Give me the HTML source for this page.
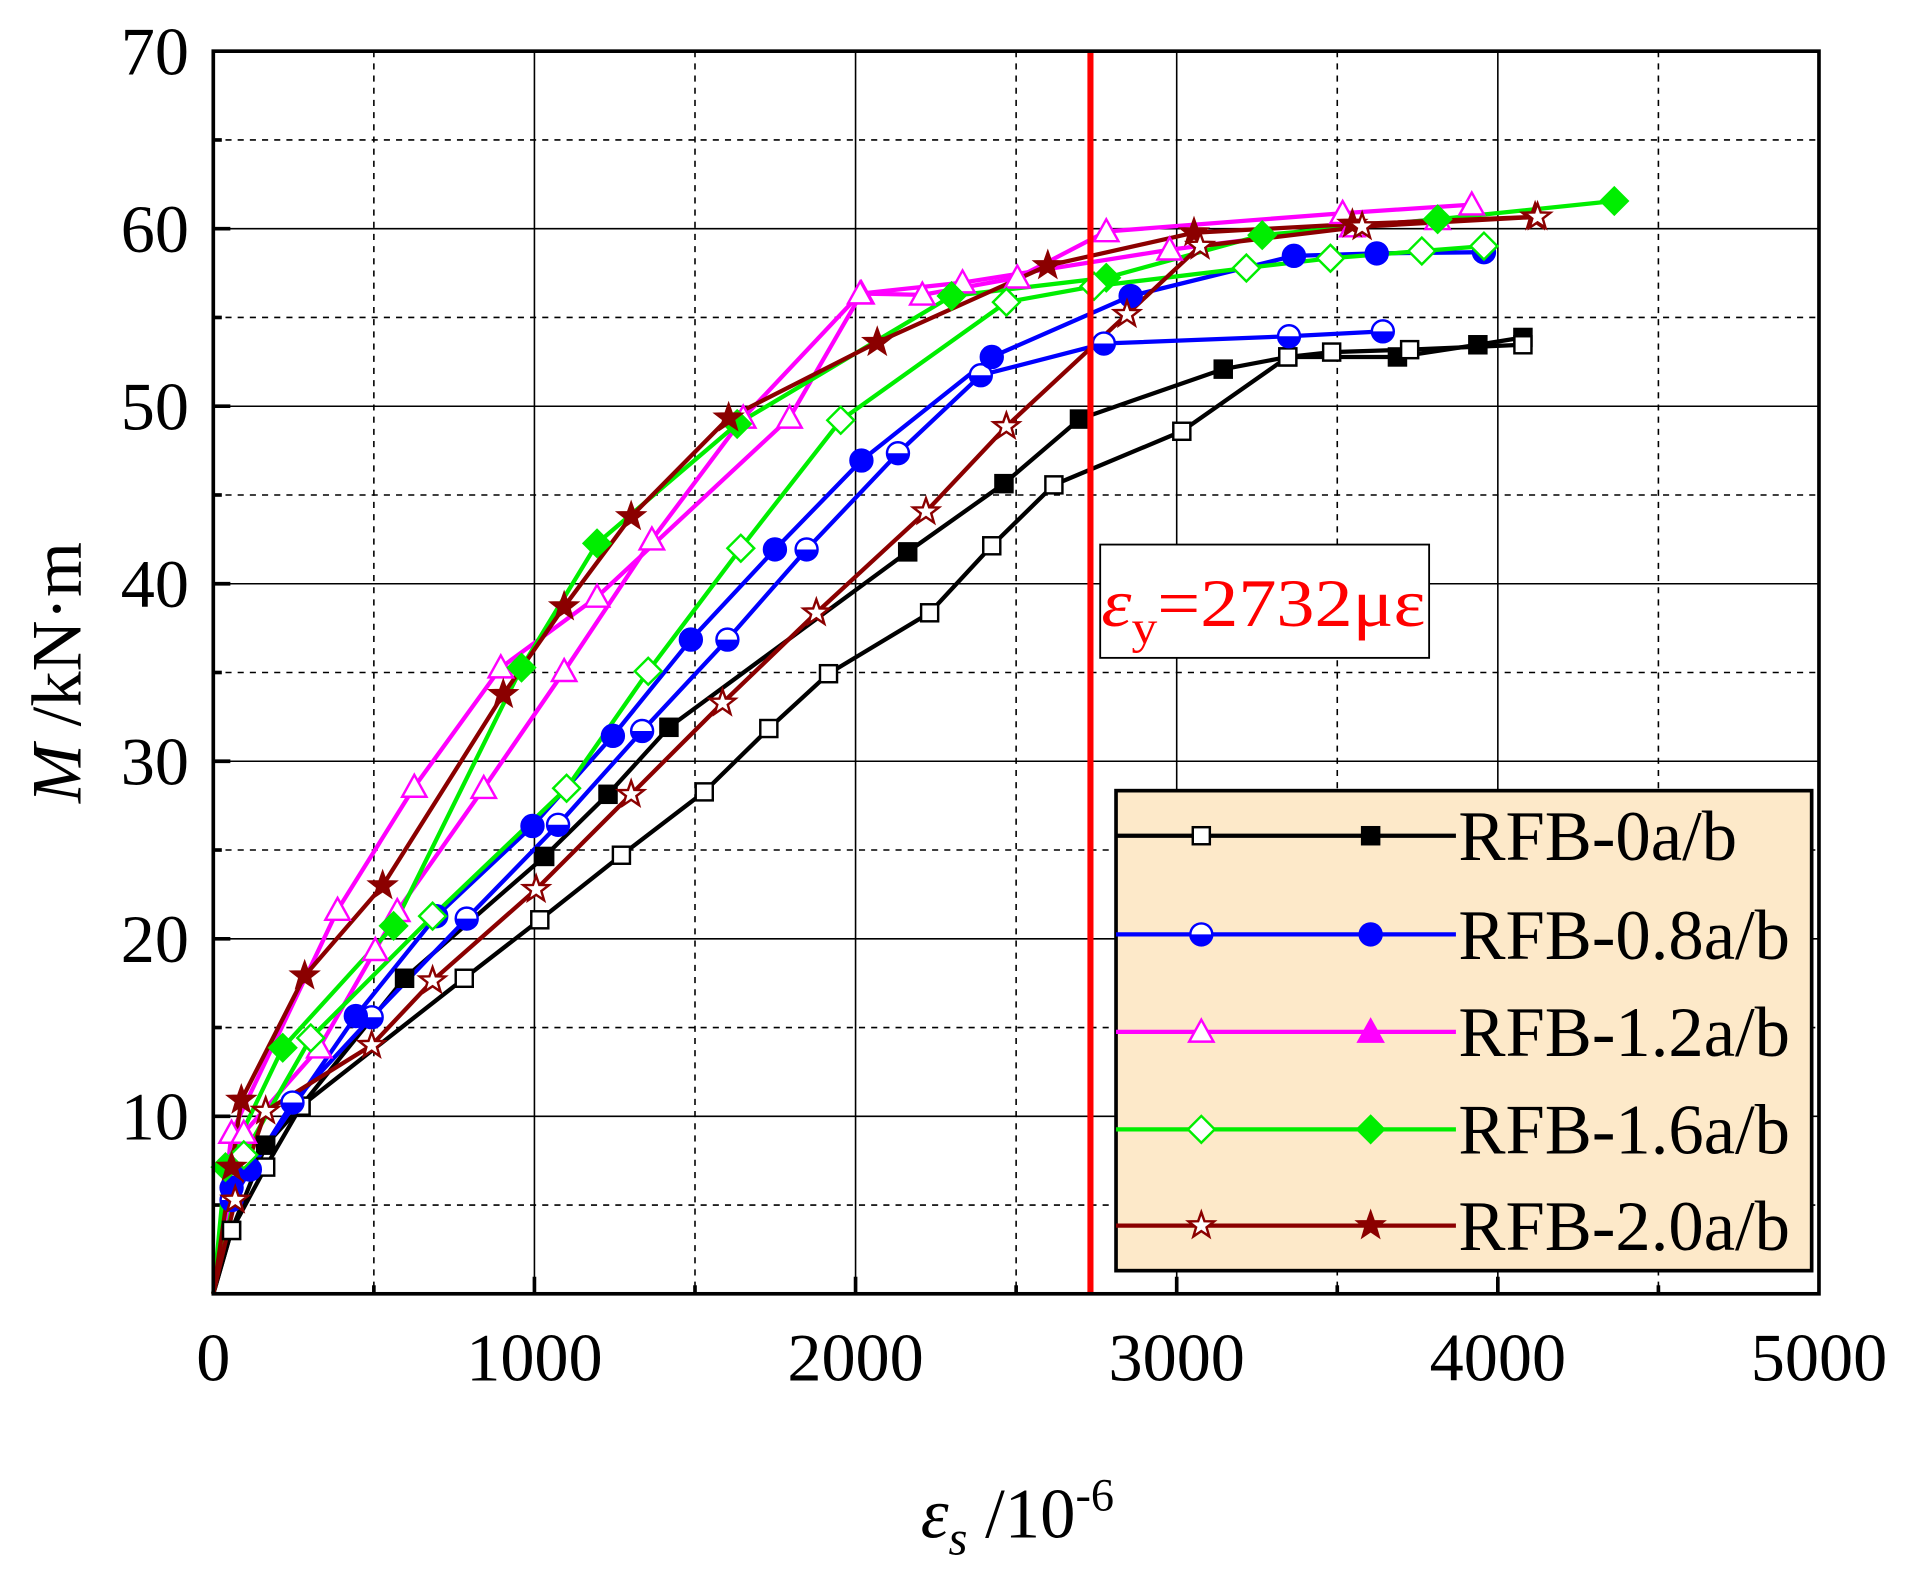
<!DOCTYPE html>
<html><head><meta charset="utf-8"><style>
html,body{margin:0;padding:0;background:#fff;width:1908px;height:1574px;overflow:hidden}
svg{display:block}
text{font-family:"Liberation Serif",serif}
</style></head><body>
<svg id="s" width="1908" height="1574" viewBox="0 0 1566 1292" xmlns="http://www.w3.org/2000/svg">
<g id="grid"></g>
<g id="plot"></g>
<line x1="895" y1="42" x2="895" y2="1062" stroke="#ff0000" stroke-width="5"/>
<rect x="903" y="447" width="270" height="93" fill="#fff" stroke="#000" stroke-width="1.5"/>
<text x="904" y="514" font-size="56" fill="#ff0000" textLength="266" lengthAdjust="spacingAndGlyphs"><tspan font-style="italic">ε</tspan><tspan font-size="38" dy="14">y</tspan><tspan dy="-14">=2732με</tspan></text>
<rect x="175" y="42" width="1318" height="1020" fill="none" stroke="#000" stroke-width="3"/>
<g id="legend"></g>
<g id="labels" font-size="56" fill="#000"></g>
<text x="0" y="0" font-size="58" transform="translate(66,552) rotate(-90)" text-anchor="middle"><tspan font-style="italic">M</tspan> /kN·m</text>
<text x="835" y="1262" font-size="58" text-anchor="middle"><tspan font-style="italic">ε</tspan><tspan font-style="italic" font-size="40" dy="14">s</tspan><tspan dy="-14"> /10</tspan><tspan font-size="38" dy="-22">-6</tspan></text>
</svg>
<script>
const NS="http://www.w3.org/2000/svg";
function el(p,t,a){const e=document.createElementNS(NS,t);for(const k in a)e.setAttribute(k,a[k]);p.appendChild(e);return e;}
const X=e=>175+e*0.2636, Y=m=>1062-m*14.571;
const g=document.getElementById('grid');
for(let e=500;e<5000;e+=500){const maj=e%1000==0;el(g,'line',{x1:X(e),x2:X(e),y1:42,y2:1062,stroke:'#000','stroke-width':1.3,'stroke-dasharray':maj?'none':'5,5'});}
for(let m=5;m<70;m+=5){const maj=m%10==0;el(g,'line',{x1:175,x2:1493,y1:Y(m),y2:Y(m),stroke:'#000','stroke-width':1.3,'stroke-dasharray':maj?'none':'5,5'});
el(g,'line',{x1:175,x2:maj?189:182,y1:Y(m),y2:Y(m),stroke:'#000','stroke-width':3});}
for(let e=500;e<5000;e+=500){el(g,'line',{x1:X(e),x2:X(e),y1:1062,y2:e%1000==0?1048:1055,stroke:'#000','stroke-width':3});}
const L=document.getElementById('labels');
for(let m=10;m<=70;m+=10){const t=el(L,'text',{x:155,y:Y(m)+19,'text-anchor':'end'});t.textContent=m;}
for(let e=0;e<=5000;e+=1000){const t=el(L,'text',{x:X(e),y:1133,'text-anchor':'middle'});t.textContent=e;}
function marker(p,type,x,y,col,fill){
 const f=fill?col:'#fff',a={stroke:col,'stroke-width':2,fill:f};
 if(type=='sq'){a.x=x-7;a.y=y-7;a.width=14;a.height=14;el(p,'rect',a);}
 else if(type=='ci'){a.cx=x;a.cy=y;a.r=9;el(p,'circle',a);el(p,'path',{d:`M${x-9} ${y}A9 9 0 0 0 ${x+9} ${y}Z`,fill:col});}
 else if(type=='tr'){a.points=`${x},${y-10} ${x+10},${y+8} ${x-10},${y+8}`;el(p,'polygon',a);}
 else if(type=='di'){a.points=`${x},${y-11} ${x+11},${y} ${x},${y+11} ${x-11},${y}`;el(p,'polygon',a);}
 else if(type=='st'){let pts=[];for(let i=0;i<10;i++){const r=i%2?4.5:11,an=-Math.PI/2+i*Math.PI/5;pts.push((x+r*Math.cos(an)).toFixed(1)+','+(y+r*Math.sin(an)).toFixed(1));}a.points=pts.join(' ');el(p,'polygon',a);}
}
const S=[
['#000','sq',[[175,1062],[190,1010],[218,940],[247,908],[332,803],[447,703],[499,652],[549,597],[745,453],[824,397],[886,344],[1004,303],[1057,293],[1147,293],[1213,283],[1250,277]],1],
['#000','sq',[[175,1062],[190,1010],[218,958],[247,908],[381,803],[443,755],[510,702],[578,650],[631,598],[680,553],[763,503],[814,448],[865,398],[970,354],[1057,293],[1093,289],[1157,287],[1250,283]],0],
['#0000ff','ci',[[175,1062],[190,985],[240,905],[305,835],[383,754],[458,677],[527,600],[597,525],[662,451],[737,372],[805,308],[906,282],[1058,276],[1135,272]],0],
['#0000ff','ci',[[175,1062],[190,975],[205,960],[292,834],[358,752],[437,678],[503,604],[567,525],[636,451],[707,378],[814,293],[928,243],[1062,210],[1130,208],[1218,207]],1],
['#ff00ff','tr',[[175,1062],[190,930],[277,747],[340,646],[411,548],[490,490],[648,343],[707,241],[757,242],[835,228],[908,190],[1102,175],[1208,168]],0],
['#ff00ff','tr',[[175,1062],[200,930],[262,860],[308,780],[326,748],[397,647],[463,551],[535,443],[610,343],[706,241],[790,232],[960,205],[1110,186],[1180,180]],0],
['#00ee00','di',[[175,1062],[185,958],[232,860],[323,760],[428,548],[490,446],[605,348],[781,243],[908,228],[1036,193],[1180,180],[1325,165]],1],
['#00ee00','di',[[175,1062],[200,948],[255,852],[355,752],[465,647],[532,551],[608,450],[690,345],[826,248],[898,235],[1023,220],[1092,212],[1167,206],[1218,202]],0],
['#8b0000','st',[[175,1062],[190,958],[198,903],[250,801],[314,727],[413,570],[463,498],[518,424],[598,343],[720,281],[860,218],[980,191],[1110,184],[1260,178]],1],
['#8b0000','st',[[175,1062],[193,985],[218,912],[305,858],[355,805],[440,730],[518,652],[593,577],[670,503],[760,420],[826,350],[925,258],[985,202],[1118,186],[1262,178]],0]
];
const P=document.getElementById('plot');
S.forEach(s=>{el(P,'polyline',{points:s[2].map(p=>p.join(',')).join(' '),fill:'none',stroke:s[0],'stroke-width':3.5});});
S.forEach(s=>{s[2].forEach((p,i)=>{if(i>0)marker(P,s[1],p[0],p[1],s[0],s[3]);});});
const G=document.getElementById('legend');
el(G,'rect',{x:916,y:649,width:571,height:394,fill:'#fde9c9',stroke:'#000','stroke-width':3});
const names=['RFB-0a/b','RFB-0.8a/b','RFB-1.2a/b','RFB-1.6a/b','RFB-2.0a/b'];
const cols=['#000','#0000ff','#ff00ff','#00ee00','#8b0000'],types=['sq','ci','tr','di','st'],ys=[686,767,847,927,1006];
names.forEach((n,i)=>{el(G,'line',{x1:916,x2:1195,y1:ys[i],y2:ys[i],stroke:cols[i],'stroke-width':3.5});
marker(G,types[i],986,ys[i],cols[i],0);marker(G,types[i],1125,ys[i],cols[i],1);
const t=el(G,'text',{x:1197,y:ys[i]+20,'font-size':58});t.textContent=n;});
</script>
</body></html>
